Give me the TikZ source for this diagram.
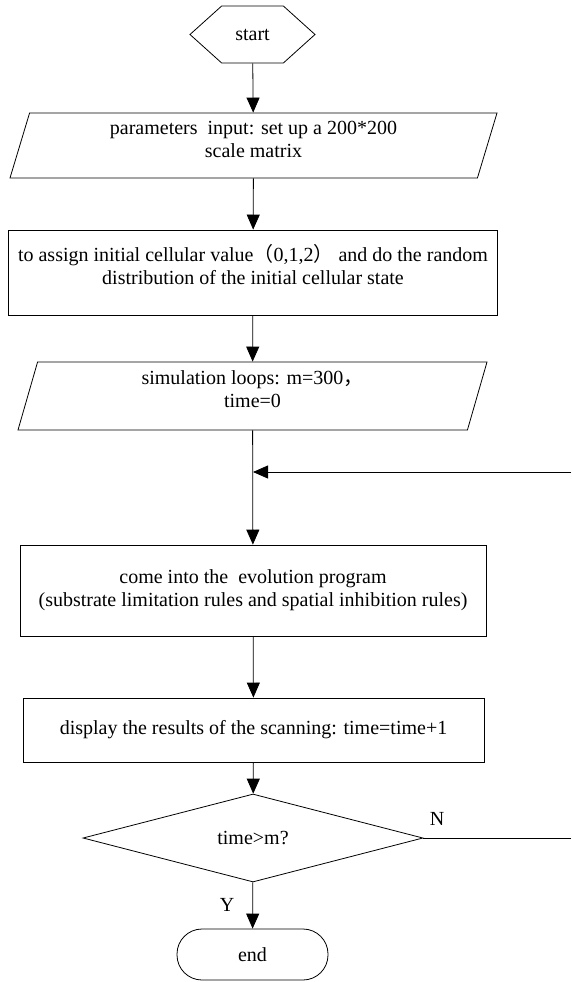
\documentclass[tikz,border=0pt]{standalone}
\usepackage{fontspec}
\setmainfont{Liberation Serif}
\newfontfamily\cjk{Noto Sans CJK SC}
\usetikzlibrary{arrows.meta,shapes.geometric,shapes.symbols}

\tikzset{
  base/.style={draw, line width=0.8pt, align=center, inner sep=0pt,
    font=\fontsize{20}{23}\selectfont},
  procbox/.style={base, rectangle},
  iobox/.style={base, trapezium, trapezium left angle=69, trapezium right angle=111,
    trapezium stretches body=true},
  raised/.style={text height=37pt, text depth=14pt},
  arr/.style={line width=0.8pt, -{Triangle[length=15pt,width=13pt]}},
  line/.style={line width=0.8pt},
}

\begin{document}
\begin{tikzpicture}[x=1pt,y=-1pt]
		\useasboundingbox (0,0) rectangle (571,982);
		% Start
		\node[base, signal, signal to=west and east, signal pointer angle=84,
		  minimum width=125pt, minimum height=57pt] (start) at (252.5,34.5) {start};
		
		% Input
		\node[iobox, raised, minimum width=487pt, minimum height=65pt] (input) at (253.5,145.5)
		  {parameters\ \ input: set up a 200*200\\scale matrix};
		
		% Initial state
		\node[procbox, raised, minimum width=489pt, minimum height=85pt] (init) at (253,272.5)
		  {to assign initial cellular value{\cjk （}0,1,2{\cjk ）} and do the random\\distribution of the initial cellular state};
		
		% Loops
		\node[iobox, raised, minimum width=469pt, minimum height=68pt] (loops) at (252.5,396)
		  {simulation loops: m=300{\cjk ，}\\time=0};
		
		% Evolution
		\node[procbox, minimum width=466pt, minimum height=91pt] (evol) at (253,590.5)
		  {come into the\ \ evolution program\\(substrate limitation rules and spatial inhibition rules)};
		
		% Display
		\node[procbox, minimum width=461pt, minimum height=64pt] (show) at (253.5,730)
		  {display the results of the scanning: time=time+1};
		
		% Decision
		\node[base, diamond, aspect=3.8, minimum width=340pt, minimum height=88pt] (check) at (253,838)
		  {time\textgreater m?};
		
		% End
		\node[procbox, rounded corners=25pt, minimum width=151pt, minimum height=51pt] (stop) at (252.5,954.5) {end};
		
		% Connectors
		\coordinate (back) at (253,472);
		\coordinate (backin) at (571,472);
		\coordinate (noout) at (571,838);
		\draw[arr] (start) -- (input);
		\draw[arr] (input) -- (init);
		\draw[arr] (init) -- (loops);
		\draw[arr] (loops) -- (evol);
		\draw[arr] (backin) -- (back);
		\draw[arr] (evol) -- (show);
		\draw[arr] (show) -- (check);
		\draw[arr] (check) -- (stop);
		\draw[line] (check.east) -- (noout);
		\node[font=\fontsize{20}{23}\selectfont] (nlab) at (437,819) {N};
		\node[font=\fontsize{20}{23}\selectfont] (ylab) at (227,905) {Y};
	\end{tikzpicture}
\end{document}
